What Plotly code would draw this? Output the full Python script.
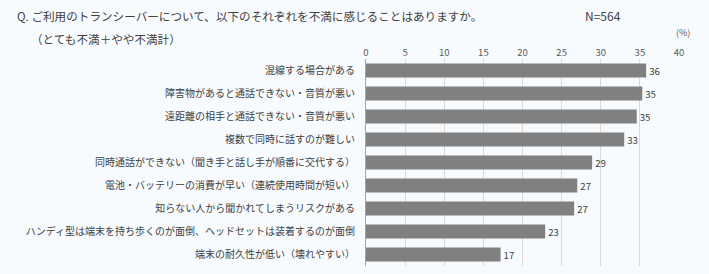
import plotly.graph_objects as go

categories = [
    "混線する場合がある",
    "障害物があると通話できない・音質が悪い",
    "遠距離の相手と通話できない・音質が悪い",
    "複数で同時に話すのが難しい",
    "同時通話ができない（聞き手と話し手が順番に交代する）",
    "電池・バッテリーの消費が早い（連続使用時間が短い）",
    "知らない人から聞かれてしまうリスクがある",
    "ハンディ型は端末を持ち歩くのが面倒、ヘッドセットは装着するのが面倒",
    "端末の耐久性が低い（壊れやすい）",
]
values = [35.8, 35.3, 34.6, 33.0, 28.9, 27.0, 26.6, 22.9, 17.2]
labels = ["36", "35", "35", "33", "29", "27", "27", "23", "17"]
tick_vals = [0, 5, 10, 15, 20, 25, 30, 35, 40]

FONT = "Noto Sans CJK JP"
BG = "#F8FBFE"

fig = go.Figure(go.Bar(
    y=categories, x=values, orientation="h",
    marker=dict(color="#808080", line=dict(width=0)),
    text=labels, textposition="outside",
    textfont=dict(family=FONT, size=11, color="#404040"),
    cliponaxis=False,
))

fig.update_layout(
    width=709, height=274,
    margin=dict(l=366, r=30, t=59, b=8),
    paper_bgcolor=BG, plot_bgcolor=BG,
    bargap=0.39, showlegend=False,
    font=dict(family=FONT, color="#404040"),
    xaxis=dict(
        range=[0, 40], side="top", tickvals=tick_vals,
        showgrid=True, gridcolor="#D9D9D9", gridwidth=1,
        zeroline=False, showline=False, ticks="",
        tickfont=dict(family=FONT, size=9.5, color="#595959"),
        fixedrange=True,
    ),
    yaxis=dict(
        autorange="reversed", showline=True, linecolor="#A6A6A6", linewidth=1,
        ticks="", ticklabelstandoff=8,
        tickfont=dict(family=FONT, size=10, color="#404040"),
        fixedrange=True,
    ),
    annotations=[
        dict(text="Q. ご利用のトランシーバーについて、以下のそれぞれを不満に感じることはありますか。",
             x=15, y=16, showarrow=False,
             xanchor="left", yanchor="middle",
             font=dict(family=FONT, size=11.6, color="#404040")),
        dict(text="（とても不満＋やや不満計）", x=29, y=39, showarrow=False,
             xanchor="left", yanchor="middle",
             font=dict(family=FONT, size=11.6, color="#404040")),
        dict(text="N=564", x=583, y=16, showarrow=False,
             xanchor="left", yanchor="middle",
             font=dict(family=FONT, size=12, color="#404040")),
        dict(text="(%)", x=683, y=32, showarrow=False,
             xanchor="center", yanchor="middle",
             font=dict(family=FONT, size=9, color="#595959")),
    ],
)

# convert pixel positions of annotations to paper coordinates
W, H = 709, 274
l, r, t, b = 366, 30, 59, 8
pw, ph = W - l - r, H - t - b
for a in fig.layout.annotations:
    px, py = a.x, a.y
    a.xref = "paper"; a.yref = "paper"
    a.x = (px - l) / pw
    a.y = (H - b - py) / ph

fig.write_html("out.html")
